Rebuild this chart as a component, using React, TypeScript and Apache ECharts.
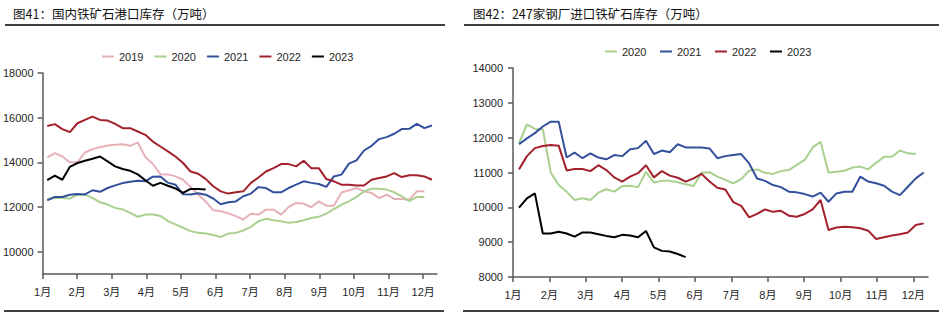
import React, { useEffect, useRef } from "react";
import * as echarts from "echarts";

// ---------- data ----------
const MONTH_LABELS = ["1月", "2月", "3月", "4月", "5月", "6月", "7月", "8月", "9月", "10月", "11月", "12月"];
const MONTH_TICKS = [0, 1, 2, 3, 4, 5, 6, 7, 8, 9, 10, 11];
// weekly observations, x in months since 1 Jan
const WEEK_STEP = 0.218;
const LEFT_START = 0.135;
const RIGHT_START = 0.165;

const LEFT_TICKS = [10000, 12000, 14000, 16000, 18000];
const RIGHT_TICKS = [8000, 9000, 10000, 11000, 12000, 13000, 14000];

// 图41 国内铁矿石港口库存
const port2019 = [14220, 14410, 14260, 14000, 14000, 14440, 14590, 14680, 14750, 14790, 14810, 14740, 14890, 14240, 13930, 13470, 13460, 13370, 13220, 12900, 12560, 12250, 11860, 11810, 11720, 11590, 11440, 11700, 11660, 11880, 11880, 11660, 12000, 12180, 12150, 11990, 12250, 12060, 12060, 12650, 12750, 12850, 12700, 12630, 12400, 12550, 12360, 12360, 12330, 12700, 12700];
const port2020 = [12360, 12400, 12400, 12380, 12550, 12550, 12410, 12210, 12110, 11960, 11890, 11740, 11560, 11660, 11660, 11600, 11370, 11220, 11070, 10920, 10850, 10810, 10750, 10660, 10810, 10840, 10950, 11110, 11360, 11470, 11410, 11360, 11290, 11330, 11410, 11510, 11560, 11700, 11910, 12100, 12250, 12450, 12700, 12820, 12820, 12780, 12660, 12480, 12260, 12450, 12450];
const port2021 = [12300, 12450, 12450, 12550, 12580, 12560, 12750, 12680, 12850, 12970, 13070, 13130, 13180, 13150, 13360, 13370, 13090, 13000, 12570, 12560, 12620, 12550, 12380, 12120, 12210, 12250, 12480, 12600, 12890, 12850, 12660, 12660, 12850, 13000, 13150, 13080, 13030, 12900, 13370, 13450, 13940, 14090, 14530, 14740, 15040, 15130, 15280, 15490, 15500, 15720, 15530, 15650];
const port2022 = [15630, 15710, 15490, 15350, 15750, 15900, 16050, 15900, 15870, 15720, 15530, 15530, 15380, 15230, 14930, 14710, 14490, 14260, 13970, 13590, 13490, 13260, 12930, 12700, 12600, 12660, 12700, 13080, 13320, 13590, 13740, 13920, 13920, 13820, 14070, 13740, 13740, 13250, 13150, 13000, 13000, 12960, 12960, 13220, 13300, 13370, 13520, 13340, 13420, 13420, 13370, 13220];
const port2023 = [13200, 13400, 13220, 13800, 13970, 14070, 14160, 14260, 14040, 13820, 13700, 13620, 13460, 13200, 12950, 13080, 12950, 12830, 12630, 12810, 12810, 12780];

// 图42 247家钢厂进口铁矿石库存
const mill2020 = [11840, 12380, 12250, 12240, 11000, 10640, 10450, 10210, 10260, 10210, 10420, 10520, 10450, 10610, 10620, 10580, 11020, 10710, 10760, 10760, 10720, 10660, 10610, 10990, 11010, 10880, 10790, 10690, 10810, 11050, 11090, 10990, 10960, 11040, 11070, 11220, 11360, 11720, 11880, 10990, 11020, 11050, 11140, 11170, 11090, 11280, 11450, 11450, 11630, 11550, 11530];
const mill2021 = [11810, 11980, 12130, 12320, 12460, 12460, 11430, 11570, 11410, 11550, 11430, 11380, 11500, 11470, 11670, 11700, 11910, 11530, 11630, 11580, 11810, 11720, 11720, 11720, 11690, 11410, 11470, 11500, 11530, 11260, 10830, 10760, 10640, 10580, 10450, 10430, 10380, 10310, 10420, 10160, 10400, 10450, 10450, 10880, 10740, 10690, 10620, 10450, 10350, 10590, 10830, 11000];
const mill2022 = [11090, 11470, 11700, 11760, 11790, 11770, 11060, 11100, 11100, 11040, 11210, 11070, 10860, 10740, 10880, 10980, 11210, 10860, 11040, 10910, 10850, 10740, 10830, 10960, 10740, 10560, 10510, 10150, 10040, 9710, 9810, 9940, 9870, 9900, 9760, 9730, 9810, 9940, 10210, 9350, 9420, 9440, 9430, 9400, 9330, 9090, 9140, 9190, 9230, 9280, 9490, 9540];
const mill2023 = [9990, 10260, 10400, 9250, 9250, 9300, 9250, 9160, 9280, 9280, 9230, 9180, 9140, 9210, 9190, 9140, 9320, 8850, 8750, 8730, 8660, 8570];

const COLORS: Record<string, string> = {
  "2019": "#E7B1B8",
  "2020": "#A9D08E",
  "2021": "#33509C",
  "2022": "#A3212C",
  "2023": "#000000",
};

const TEXT_FONT = "'Liberation Sans', Arial, 'Noto Sans CJK SC', sans-serif";
const AXIS_COLOR = "#595959";

function toPoints(values: number[], start: number) {
  return values.map((v, i) => [start + i * WEEK_STEP, v]);
}

function lineSeries(name: string, values: number[], start: number, idx: number) {
  return {
    type: "line",
    name,
    xAxisIndex: idx,
    yAxisIndex: idx,
    data: toPoints(values, start),
    showSymbol: false,
    symbol: "none",
    smooth: false,
    lineStyle: { color: COLORS[name], width: 2 },
    itemStyle: { color: COLORS[name] },
  };
}

function xAxis(idx: number) {
  return {
    type: "value",
    gridIndex: idx,
    min: 0,
    max: 11.4,
    axisLine: { show: true, onZero: false, lineStyle: { color: AXIS_COLOR, width: 1.5 } },
    axisTick: { show: true, length: 5, customValues: MONTH_TICKS, lineStyle: { color: AXIS_COLOR, width: 1.5 } },
    axisLabel: {
      customValues: MONTH_TICKS,
      formatter: (v: number) => MONTH_LABELS[Math.round(v)],
      fontSize: 11,
      color: "#262626",
      margin: 12,
      fontFamily: TEXT_FONT,
    },
    splitLine: { show: false },
  };
}

function yAxis(idx: number, min: number, max: number, ticks: number[], margin: number) {
  return {
    type: "value",
    gridIndex: idx,
    min,
    max,
    axisLine: { show: true, onZero: false, lineStyle: { color: AXIS_COLOR, width: 1.5 } },
    axisTick: { show: true, length: 5, customValues: ticks, lineStyle: { color: AXIS_COLOR, width: 1.5 } },
    axisLabel: {
      customValues: ticks,
      formatter: (v: number) => String(Math.round(v)),
      fontSize: 11,
      color: "#262626",
      margin,
      fontFamily: TEXT_FONT,
    },
    splitLine: { show: false },
  };
}

function legend(names: string[], left: number, top: number, gap: number) {
  return {
    data: names,
    left,
    top,
    icon: "rect",
    itemWidth: 12,
    itemHeight: 2,
    itemGap: gap,
    textStyle: { fontSize: 11, color: "#262626", fontFamily: TEXT_FONT },
    selectedMode: false,
  };
}

export default function App() {
  const ref = useRef<HTMLDivElement>(null);

  useEffect(() => {
    if (!ref.current) return;
    const chart = echarts.init(ref.current, null, { renderer: "svg" });
    const rule = (x1: number, x2: number, y: number) => ({
      type: "line",
      shape: { x1, y1: y, x2, y2: y },
      style: { stroke: "#000", lineWidth: 1.5 },
    });
    const title = (x: number, text: string) => ({
      type: "text",
      x,
      y: 13,
      style: {
        text,
        fill: "#111",
        font: "12.5px 'Noto Sans CJK SC', sans-serif",
        textVerticalAlign: "middle",
        verticalAlign: "middle",
      },
    });
    chart.setOption({
      animation: false,
      backgroundColor: "#fff",
      grid: [
        { left: 41, top: 73, width: 396, height: 201, containLabel: false },
        { left: 513, top: 68, width: 415, height: 209, containLabel: false },
      ],
      legend: [
        legend(["2019", "2020", "2021", "2022", "2023"], 97, 46, 11),
        legend(["2020", "2021", "2022", "2023"], 600, 41, 13.5),
      ],
      xAxis: [xAxis(0), xAxis(1)],
      yAxis: [yAxis(0, 9000, 18000, LEFT_TICKS, 9), yAxis(1, 8000, 14000, RIGHT_TICKS, 10)],
      series: [
        lineSeries("2019", port2019, LEFT_START, 0),
        lineSeries("2020", port2020, LEFT_START, 0),
        lineSeries("2021", port2021, LEFT_START, 0),
        lineSeries("2022", port2022, LEFT_START, 0),
        lineSeries("2023", port2023, LEFT_START, 0),
        lineSeries("2020", mill2020, RIGHT_START, 1),
        lineSeries("2021", mill2021, RIGHT_START, 1),
        lineSeries("2022", mill2022, RIGHT_START, 1),
        lineSeries("2023", mill2023, RIGHT_START, 1),
      ],
      graphic: [
        title(13, "图41：国内铁矿石港口库存（万吨）"),
        title(473, "图42：247家钢厂进口铁矿石库存（万吨）"),
        rule(5, 445, 25),
        rule(464, 939, 25),
        rule(4, 444, 311),
        rule(463, 939, 311),
      ],
    });
    return () => chart.dispose();
  }, []);

  return (
    <div
      ref={ref}
      style={{ position: "absolute", left: 0, top: 0, width: 939, height: 329, background: "#fff" }}
    />
  );
}
